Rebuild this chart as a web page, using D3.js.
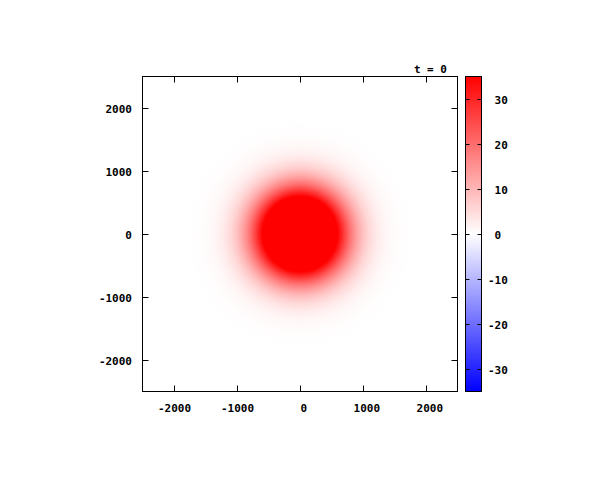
<!DOCTYPE html>
<html>
<head>
<meta charset="utf-8">
<script src="https://cdn.jsdelivr.net/npm/d3@7"></script>
<style>
  html, body { margin: 0; padding: 0; background: #fff; }
  svg { display: block; }
  text { font-family: "DejaVu Sans Mono", monospace; font-weight: bold; font-size: 11px; fill: #000; }
</style>
</head>
<body>
<svg id="chart" width="600" height="480"></svg>
<script>
// ---- data ----
const titleText = "t = 0";
const xDomain = [-2500, 2500];
const yDomain = [-2500, 2500];
const cbDomain = [-35, 35];
const xTickValues = [-2000, -1000, 0, 1000, 2000];
const yTickValues = [-2000, -1000, 0, 1000, 2000];
const cbTickValues = [-30, -20, -10, 0, 10, 20, 30];
// radial profile of the field around (0,0): radius (data units) -> value
const profileRadius = [0, 100, 200, 300, 400, 500, 550, 600, 650, 700, 750, 800, 850, 900, 950, 1000, 1050, 1100, 1150, 1200, 1250, 1300, 1350, 1400, 1450, 1500, 1600, 1700, 1800, 2000];
const profileValue  = [78, 76.3, 71.4, 64, 54.8, 45, 40.1, 35.2, 30.8, 26.6, 22.6, 19.1, 15.9, 13.2, 10.7, 8.6, 6.9, 5.4, 4.3, 3.3, 2.5, 1.9, 1.4, 1.0, 0.77, 0.55, 0.28, 0.14, 0.06, 0];
const paletteColors = ["#0000ff", "#ffffff", "#ff0000"];

// ---- layout ----
const svg = d3.select("#chart");
const plot = { left: 142.5, right: 457.5, top: 76.5, bottom: 391.5 };
const cbar = { left: 465.5, right: 481.5, top: 76.5, bottom: 391.5 };

const x = d3.scaleLinear().domain(xDomain).range([plot.left, plot.right]);
const y = d3.scaleLinear().domain(yDomain).range([plot.bottom, plot.top]);
const cbY = d3.scaleLinear().domain(cbDomain).range([cbar.bottom, cbar.top]);
const color = d3.scaleLinear()
  .domain([cbDomain[0], 0, cbDomain[1]])
  .range(paletteColors)
  .clamp(true);

const fmt = v => (v < 0 ? String(v) : "\u00A0" + v);

const defs = svg.append("defs");

// radial gradient of the field
const rMax = profileRadius[profileRadius.length - 1];
const rg = defs.append("radialGradient")
  .attr("id", "field")
  .attr("gradientUnits", "userSpaceOnUse")
  .attr("cx", x(0)).attr("cy", y(0))
  .attr("r", x(rMax) - x(0));
rg.selectAll("stop").data(profileRadius).join("stop")
  .attr("offset", (d) => d / rMax)
  .attr("stop-color", (d, i) => color(profileValue[i]));

defs.append("clipPath").attr("id", "plotclip")
  .append("rect")
  .attr("x", plot.left).attr("y", plot.top)
  .attr("width", plot.right - plot.left).attr("height", plot.bottom - plot.top);

// background of plot (value 0 -> white)
svg.append("rect")
  .attr("x", plot.left).attr("y", plot.top)
  .attr("width", plot.right - plot.left).attr("height", plot.bottom - plot.top)
  .attr("fill", color(0));

svg.append("circle")
  .attr("clip-path", "url(#plotclip)")
  .attr("cx", x(0)).attr("cy", y(0))
  .attr("r", x(rMax) - x(0))
  .attr("fill", "url(#field)");

// frame
svg.append("rect")
  .attr("x", plot.left).attr("y", plot.top)
  .attr("width", plot.right - plot.left).attr("height", plot.bottom - plot.top)
  .attr("fill", "none").attr("stroke", "#000").attr("stroke-width", 1);

const tickLen = 6;
// axes (ticks inward, mirrored)
const gx = svg.append("g").attr("transform", `translate(0,${plot.bottom})`)
  .call(d3.axisBottom(x).tickValues(xTickValues).tickSizeInner(-tickLen).tickSizeOuter(0).tickPadding(0).tickFormat(fmt));
gx.select(".domain").remove();
gx.selectAll(".tick line").attr("stroke", "#000");
gx.selectAll(".tick text").attr("y", 20.5).attr("dy", null)
  .style("font-family", null).style("font-size", null).attr("font-family", null).attr("font-size", null);

const gxt = svg.append("g").attr("transform", `translate(0,${plot.top})`)
  .call(d3.axisTop(x).tickValues(xTickValues).tickSizeInner(-tickLen).tickSizeOuter(0).tickFormat(""));
gxt.select(".domain").remove();
gxt.selectAll(".tick line").attr("stroke", "#000");

const gy = svg.append("g").attr("transform", `translate(${plot.left},0)`)
  .call(d3.axisLeft(y).tickValues(yTickValues).tickSizeInner(-tickLen).tickSizeOuter(0).tickPadding(0).tickFormat(fmt));
gy.select(".domain").remove();
gy.selectAll(".tick line").attr("stroke", "#000");
gy.selectAll(".tick text").attr("x", -10.5).attr("dy", "4").attr("text-anchor", "end")
  .attr("font-family", null).attr("font-size", null);

const gyr = svg.append("g").attr("transform", `translate(${plot.right},0)`)
  .call(d3.axisRight(y).tickValues(yTickValues).tickSizeInner(-tickLen).tickSizeOuter(0).tickFormat(""));
gyr.select(".domain").remove();
gyr.selectAll(".tick line").attr("stroke", "#000");

svg.selectAll("g").attr("font-family", null).attr("font-size", null);

// title
svg.append("text")
  .attr("x", 447).attr("y", 73)
  .attr("text-anchor", "end")
  .text(titleText);

// colorbar
const lg = defs.append("linearGradient")
  .attr("id", "cbgrad")
  .attr("gradientUnits", "userSpaceOnUse")
  .attr("x1", 0).attr("x2", 0)
  .attr("y1", cbY(cbDomain[0])).attr("y2", cbY(cbDomain[1]));
lg.selectAll("stop").data([cbDomain[0], 0, cbDomain[1]]).join("stop")
  .attr("offset", d => (d - cbDomain[0]) / (cbDomain[1] - cbDomain[0]))
  .attr("stop-color", d => color(d));

svg.append("rect")
  .attr("x", cbar.left).attr("y", cbar.top)
  .attr("width", cbar.right - cbar.left).attr("height", cbar.bottom - cbar.top)
  .attr("fill", "url(#cbgrad)")
  .attr("stroke", "#000").attr("stroke-width", 1);

const cbTickLen = 4;
const gcb = svg.append("g").attr("transform", `translate(${cbar.right},0)`)
  .call(d3.axisRight(cbY).tickValues(cbTickValues).tickSizeInner(-cbTickLen).tickSizeOuter(0).tickPadding(0).tickFormat(fmt));
gcb.select(".domain").remove();
gcb.selectAll(".tick line").attr("stroke", "#000");
gcb.selectAll(".tick text").attr("x", 6.5).attr("dy", "4.5").attr("text-anchor", "start");
const gcbl = svg.append("g").attr("transform", `translate(${cbar.left},0)`)
  .call(d3.axisLeft(cbY).tickValues(cbTickValues).tickSizeInner(-cbTickLen).tickSizeOuter(0).tickFormat(""));
gcbl.select(".domain").remove();
gcbl.selectAll(".tick line").attr("stroke", "#000");

svg.selectAll("g").attr("font-family", null).attr("font-size", null);
</script>
</body>
</html>
